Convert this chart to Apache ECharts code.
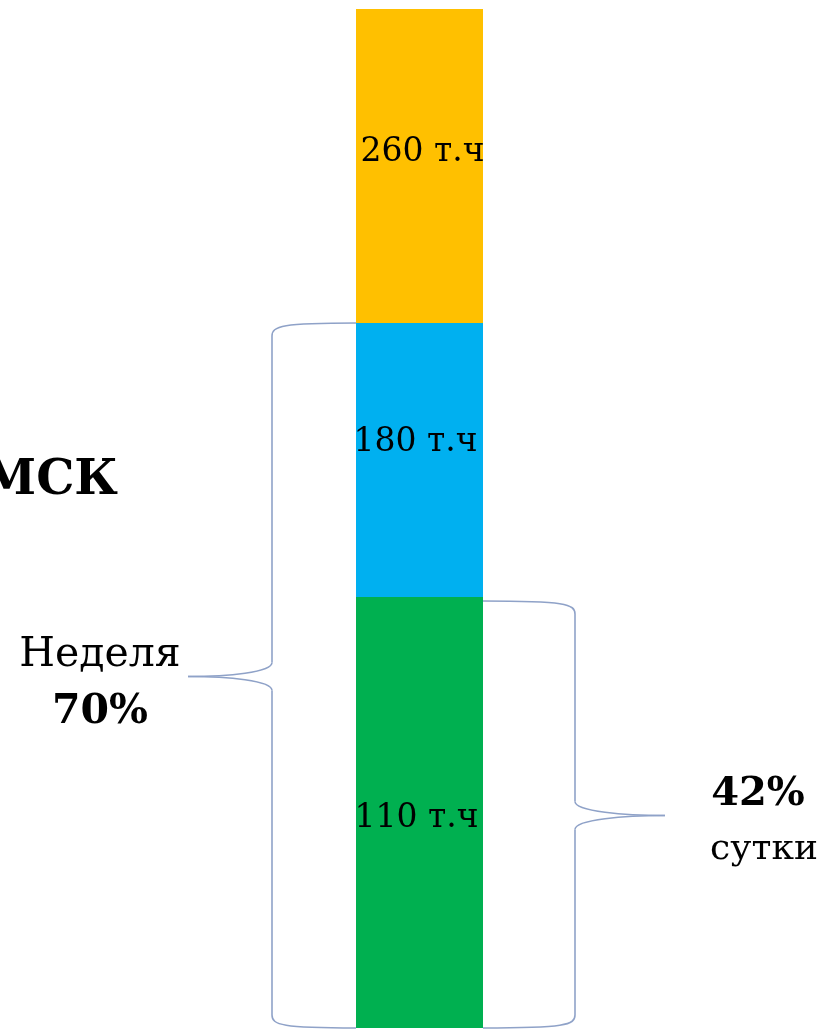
<!DOCTYPE html>
<html>
<head>
<meta charset="utf-8">
<script src="https://cdn.jsdelivr.net/npm/echarts@6/dist/echarts.min.js"></script>
<style>
html, body { margin: 0; padding: 0; background: #fff; }
#main { width: 825px; height: 1030px; }
</style>
</head>
<body>
<div id="main"></div>
<script>
// сегменты столбца снизу вверх (высоты как на картинке)
var segmentHeights = [431, 274, 314];
var segmentLabels = ['110 т.ч', '180 т.ч', '260 т.ч'];
var segmentColors = ['#00B050', '#00B0F0', '#FFC000'];
var categories = ['МСК'];

var chart = echarts.init(document.getElementById('main'));
var serif = '"DejaVu Serif", serif';
var labelOffsets = [[-3, 6], [-4, -18], [3, -14]];

var series = segmentHeights.map(function(h, i){
	return {
		type: 'bar',
		stack: 'all',
		barWidth: '100%',
		data: [h],
		itemStyle: { color: segmentColors[i] },
		label: {
			show: true,
			position: 'inside',
			offset: labelOffsets[i],
			formatter: segmentLabels[i],
			color: '#000',
			fontFamily: serif,
			fontSize: 33
		}
	};
});

var total = segmentHeights.reduce(function(a, b){ return a + b; }, 0);

chart.setOption({
	animation: false,
	grid: { left: 356, right: 342, top: 9, bottom: 2 },
	xAxis: { type: 'category', data: categories, show: false },
	yAxis: { type: 'value', min: 0, max: total, show: false },
	series: series
});

var braceStyle = { stroke: '#8fa2c8', lineWidth: 1.6, fill: null };

function curve(x1, y1, cx1, cy1, cx2, cy2, x2, y2){
	return { type: 'bezierCurve', shape: { x1: x1, y1: y1, cpx1: cx1, cpy1: cy1, cpx2: cx2, cpy2: cy2, x2: x2, y2: y2 }, style: braceStyle };
}
function line(x1, y1, x2, y2){
	return { type: 'line', shape: { x1: x1, y1: y1, x2: x2, y2: y2 }, style: braceStyle };
}

// фигурная скобка: d = -1 остриём влево, d = 1 вправо
function brace(xBar, xLine, xTip, yTop, yBot, d){
	var yMid = (yTop + yBot) / 2 + 1;
	return [
		curve(xBar, yTop, xLine - d * 10, yTop, xLine, yTop + 3, xLine, yTop + 13),
		line(xLine, yTop + 13, xLine, yMid - 14),
		curve(xLine, yMid - 14, xLine, yMid - 4, xTip - d * 40, yMid, xTip, yMid),
		curve(xTip, yMid, xTip - d * 40, yMid, xLine, yMid + 4, xLine, yMid + 14),
		line(xLine, yMid + 14, xLine, yBot - 13),
		curve(xLine, yBot - 13, xLine, yBot - 3, xLine - d * 10, yBot, xBar, yBot)
	];
}

var y0 = chart.convertToPixel({ yAxisIndex: 0 }, 0);
var yGreenTop = chart.convertToPixel({ yAxisIndex: 0 }, segmentHeights[0]);
var yBlueTop = chart.convertToPixel({ yAxisIndex: 0 }, segmentHeights[0] + segmentHeights[1]);

function txt(x, y, text, size, weight, align){
	return {
		type: 'text', x: x, y: y,
		style: {
			text: text, fill: '#000',
			font: weight + ' ' + size + 'px ' + serif,
			align: align, verticalAlign: 'middle',
			textAlign: align, textVerticalAlign: 'middle'
		}
	};
}

var elements = []
	.concat(brace(356, 272, 188, yBlueTop, y0, -1))
	.concat(brace(483, 575, 665, yGreenTop + 4, y0, 1))
	.concat([
		txt(118, 482, 'МСК', 48, 'bold', 'right'),
		txt(100, 655, 'Неделя', 41, 'normal', 'center'),
		txt(100, 712, '70%', 41, 'bold', 'center'),
		txt(758, 795, '42%', 40, 'bold', 'center'),
		txt(764, 850, 'сутки', 36, 'normal', 'center')
	]);

chart.setOption({ graphic: elements });
</script>
</body>
</html>
